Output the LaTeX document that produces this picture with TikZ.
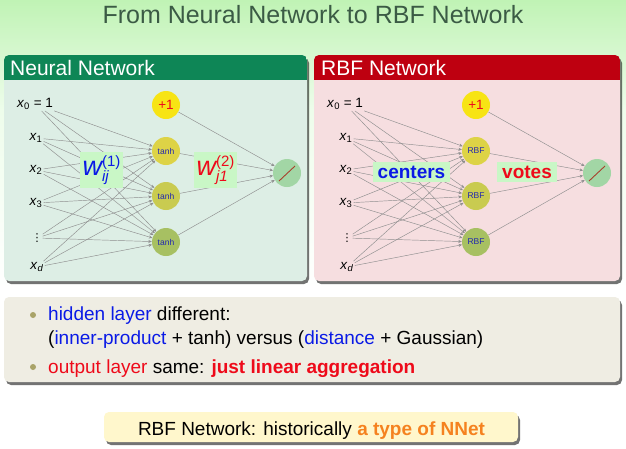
\documentclass[tikz,border=0pt]{standalone}
\usepackage{fontspec}
\setmainfont{Liberation Sans}
\newfontfamily\symbolfont{DejaVu Sans}
\usetikzlibrary{arrows.meta,shadows}

\definecolor{bgtop}{HTML}{C0F3B5}
\definecolor{bgmid}{HTML}{EEFDEB}
\definecolor{headL}{HTML}{0E8656}
\definecolor{bodyL}{HTML}{DDEEE5}
\definecolor{headR}{HTML}{BE0010}
\definecolor{bodyR}{HTML}{F6DEE0}
\definecolor{noteBg}{HTML}{EFEDE3}
\definecolor{tipBg}{HTML}{FFF7CC}
\definecolor{titleC}{HTML}{3B5B45}
\definecolor{blueT}{HTML}{0A1AE6}
\definecolor{darkblueT}{HTML}{2228B0}
\definecolor{redT}{HTML}{EE0A1A}
\definecolor{orangeT}{HTML}{F5821F}
\definecolor{biasC}{HTML}{F7E414}
\definecolor{hidA}{HTML}{DDD346}
\definecolor{hidB}{HTML}{C9CB50}
\definecolor{hidC}{HTML}{A7C062}
\definecolor{outC}{HTML}{A2D6A5}
\definecolor{slashC}{HTML}{A8402C}
\definecolor{wbox}{HTML}{C9F7C6}
\definecolor{edgeC}{HTML}{8E8E8E}
\definecolor{bulletC}{HTML}{A9A368}

\tikzset{
  panelshadow/.style={drop shadow={shadow xshift=2pt,shadow yshift=-3pt,opacity=0.55,fill=black}},
  inlabel/.style={font=\fontsize{13.5}{14}\selectfont, inner sep=1pt},
  neuron/.style={circle, minimum size=28pt, inner sep=0pt},
  link/.style={draw=edgeC, line width=0.45pt, -{Stealth[length=3.5pt,width=3pt]}},
  wlabel/.style={fill=wbox, inner sep=0pt},
  bodytext/.style={font=\fontsize{19}{22}\selectfont, inner sep=0pt},
  bulletdot/.style={circle, fill=bulletC, inner sep=0pt, minimum size=6pt},
}

% one network diagram: #1 name prefix, #2 horizontal shift, #3 hidden unit label
\newcommand\netdiagram[3]{%
  \begin{scope}[xshift=#2]
    \node[inlabel] (#1x0) at (35,104) {\textit{x}\textsubscript{0} = 1};
    \node[inlabel] (#1x1) at (36,138) {\textit{x}\textsubscript{1}};
    \node[inlabel] (#1x2) at (36,170) {\textit{x}\textsubscript{2}};
    \node[inlabel] (#1x3) at (36,203) {\textit{x}\textsubscript{3}};
    \node[inlabel, font=\symbolfont\fontsize{11}{11}\selectfont, inner sep=0pt] (#1xe) at (37,238) {⋮};
    \node[inlabel] (#1xd) at (37,267) {\textit{x}\textsubscript{\textit{d}}};
    \node[neuron, fill=biasC] (#1b) at (166,105) {\fontsize{13.5}{13.5}\selectfont\color{redT}+1};
    \node[neuron, fill=hidA] (#1h1) at (166,151) {\fontsize{8.5}{8.5}\selectfont\color{darkblueT}#3};
    \node[neuron, fill=hidB] (#1h2) at (166,196) {\fontsize{8.5}{8.5}\selectfont\color{darkblueT}#3};
    \node[neuron, fill=hidC] (#1h3) at (166,242) {\fontsize{8.5}{8.5}\selectfont\color{darkblueT}#3};
    \node[neuron, fill=outC] (#1o) at (287,173) {};
    \draw[slashC, line width=0.9pt]
      ([shift={(-8pt,-8pt)}]#1o.center) -- ([shift={(8pt,7pt)}]#1o.center);
    \foreach \i in {x0,x1,x2,x3,xe,xd}
      \foreach \j in {h1,h2,h3}
        \draw[link] (#1\i) -- (#1\j);
    \foreach \j in {b,h1,h2,h3}
      \draw[link] (#1\j) -- (#1o);
  \end{scope}}

\begin{document}
\begin{tikzpicture}[x=1pt,y=-1pt]
  \useasboundingbox (0,0) rectangle (626,448);

  % background
  \fill[white] (0,0) rectangle (626,448);
  \shade[top color=bgtop, bottom color=bgmid] (0,0) rectangle (626,110);
  \shade[top color=bgmid, bottom color=white] (0,110) rectangle (626,290);

  % title
  \node[anchor=base, font=\fontsize{25}{25}\selectfont, text=titleC, inner sep=0pt]
    (title) at (313,23) {From Neural Network to RBF Network};

  % left panel
  \fill[bodyL, rounded corners=5pt, panelshadow] (4,55) rectangle (307,281);
  \begin{scope}
    \clip[rounded corners=5pt] (4,55) rectangle (307,281);
    \fill[headL] (4,55) rectangle (307,80);
  \end{scope}
  \node[anchor=base west, font=\fontsize{21}{21}\selectfont, text=white, inner sep=0pt]
    (headleft) at (10,75) {Neural Network};

  % right panel
  \fill[bodyR, rounded corners=5pt, panelshadow] (314,55) rectangle (620,281);
  \begin{scope}
    \clip[rounded corners=5pt] (314,55) rectangle (620,281);
    \fill[headR] (314,55) rectangle (620,80);
  \end{scope}
  \node[anchor=base west, font=\fontsize{21}{21}\selectfont, text=white, inner sep=0pt]
    (headright) at (321,75) {RBF Network};

  % the two networks
  \netdiagram{L}{0pt}{tanh}
  \netdiagram{R}{310pt}{RBF}

  % weight labels
  \node[wlabel, minimum width=43pt, minimum height=36pt] (wone) at (101.5,170)
    {\color{blueT}{\fontsize{27}{27}\selectfont\itshape w}{\fontsize{15}{15}\selectfont\rlap{\raisebox{-6pt}{\itshape ij}}\raisebox{9pt}{(1)}}};
  \node[wlabel, minimum width=43pt, minimum height=36pt] (wtwo) at (215.5,170)
    {\color{redT}{\fontsize{27}{27}\selectfont\itshape w}{\fontsize{15}{15}\selectfont\rlap{\raisebox{-6pt}{\itshape j1}}\raisebox{9pt}{(2)}}};
  \node[wlabel, minimum width=77pt, minimum height=20pt, font=\fontsize{19}{19}\selectfont\bfseries, text=blueT]
    (centers) at (411.5,172) {centers};
  \node[wlabel, minimum width=60pt, minimum height=20pt, font=\fontsize{19}{19}\selectfont\bfseries, text=redT]
    (votes) at (527,172) {votes};

  % comparison notes
  \node[fill=noteBg, rounded corners=5pt, minimum width=616pt, minimum height=85pt,
        inner sep=0pt, panelshadow] (notebox) at (312,339.5) {};
  \node[bulletdot] (dotone) at (33,315) {};
  \node[bulletdot] (dottwo) at (33,367) {};
  \node[bodytext, anchor=base west] (lineone) at (48,320)
    {{\color{blueT}hidden layer} different:};
  \node[bodytext, anchor=base west] (linetwo) at (48,344)
    {({\color{blueT}inner-product} + tanh) versus ({\color{blueT}distance} + Gaussian)};
  \node[bodytext, anchor=base west] (linethree) at (48,373)
    {{\color{redT}output layer} same: {\color{redT}\bfseries just linear aggregation}};

  % closing remark
  \node[fill=tipBg, rounded corners=5pt, minimum width=414pt, minimum height=30pt,
        inner sep=0pt, panelshadow] (tipbox) at (311,427) {};
  \node[bodytext, anchor=base] (tiptext) at (311.5,435)
    {RBF Network: historically {\color{orangeT}\bfseries a type of NNet}};
\end{tikzpicture}
\end{document}
